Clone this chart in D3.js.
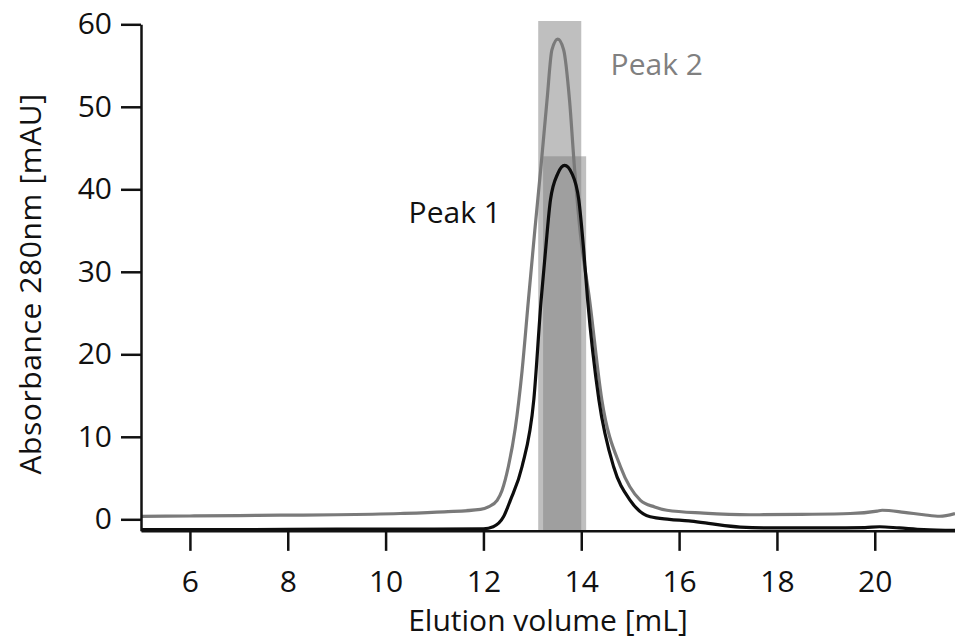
<!DOCTYPE html>
<html>
<head>
<meta charset="utf-8">
<script src="https://cdn.jsdelivr.net/npm/d3@7"></script>
<style>
  body { margin: 0; background: #fff; }
  text { font-family: "Open Sans", sans-serif; }
</style>
</head>
<body>
<div id="chart"></div>
<script>
// Peak 2 trace (grey)
var peak2Volume = [5.0, 6, 7, 7.85, 9, 10.3, 11.2, 11.94, 12.1, 12.28, 12.38, 12.51, 12.65, 12.79, 12.92, 13.05, 13.18, 13.30, 13.40, 13.52, 13.64, 13.76, 13.86, 13.98, 14.17, 14.42, 14.80, 15.21, 15.5, 15.75, 16.5, 17.45, 18.5, 19.5, 20.05, 20.15, 20.6, 21.0, 21.33, 21.64];
var peak2Abs = [0.35, 0.4, 0.45, 0.5, 0.55, 0.7, 0.9, 1.2, 1.5, 2.3, 3.5, 6.4, 11, 18, 26.6, 35, 43, 50.8, 56.9, 58.2, 56.9, 50.8, 42.7, 34.7, 26.6, 14.5, 6.4, 2.3, 1.5, 1.1, 0.75, 0.55, 0.6, 0.7, 1.0, 1.1, 0.85, 0.55, 0.37, 0.7];

// Peak 1 trace (black)
var peak1Volume = [5.0, 7, 9, 11, 12.0, 12.2, 12.41, 12.55, 12.79, 13.03, 13.18, 13.27, 13.37, 13.52, 13.66, 13.81, 13.95, 14.05, 14.13, 14.36, 14.66, 15.0, 15.41, 15.8, 16.2, 16.6, 17.25, 18, 19, 19.8, 20.1, 20.5, 21.0, 21.64];
var peak1Abs = [-1.25, -1.25, -1.2, -1.2, -1.15, -0.9, 0.3, 2.3, 6.4, 14.5, 26.6, 32.6, 38.7, 41.9, 42.9, 41.9, 38.7, 32.6, 26.6, 14.5, 6.4, 2.3, 0.3, 0.0, -0.2, -0.5, -0.94, -1.05, -1.05, -1.0, -0.9, -1.05, -1.25, -1.35];

// collected fractions: [start, end, height]
var fraction2 = [13.12, 14.0, 60.4];
var fraction1 = [13.22, 14.10, 44];

var xTicks = [6, 8, 10, 12, 14, 16, 18, 20];
var yTicks = [0, 10, 20, 30, 40, 50, 60];

var xDomain = [5, 21.64];
var yDomain = [-1.4, 60];

var width = 955, height = 640;

var svg = d3.select("#chart")
  .append("svg")
    .attr("width", width)
    .attr("height", height);

var x = d3.scaleLinear().domain(xDomain).range([141, 955]);
var y = d3.scaleLinear().domain(yDomain).range([530.85, 24.3]);

// fraction boxes
[fraction2, fraction1].forEach(function(f) {
  svg.append("rect")
    .attr("x", x(f[0]))
    .attr("y", y(f[2]))
    .attr("width", x(f[1]) - x(f[0]))
    .attr("height", y(yDomain[0]) - y(f[2]))
    .attr("fill", "#808080")
    .attr("fill-opacity", 0.5);
});

var line = d3.line()
  .x(function(d) { return x(d[0]); })
  .y(function(d) { return y(d[1]); })
  .curve(d3.curveMonotoneX);

svg.append("path")
  .datum(d3.zip(peak2Volume, peak2Abs))
  .attr("d", line)
  .attr("fill", "none")
  .attr("stroke", "#7a7a7a")
  .attr("stroke-width", 3.2)
  .attr("stroke-linejoin", "round");

svg.append("path")
  .datum(d3.zip(peak1Volume, peak1Abs))
  .attr("d", line)
  .attr("fill", "none")
  .attr("stroke", "#0d0d0d")
  .attr("stroke-width", 3.2)
  .attr("stroke-linejoin", "round");

// axes
var xAxis = svg.append("g")
  .attr("transform", "translate(0," + y(yDomain[0]) + ")")
  .call(d3.axisBottom(x).tickValues(xTicks).tickSize(20).tickSizeOuter(0).tickPadding(20));

var yAxis = svg.append("g")
  .attr("transform", "translate(" + x(xDomain[0]) + ",0)")
  .call(d3.axisLeft(y).tickValues(yTicks).tickSize(20).tickSizeOuter(0).tickPadding(9));

[xAxis, yAxis].forEach(function(a) {
  a.select(".domain").attr("stroke", "#111").attr("stroke-width", 2.5);
  a.selectAll(".tick line").attr("stroke", "#111").attr("stroke-width", 2.5);
  a.selectAll(".tick text")
    .attr("fill", "#111")
    .style("font-size", "30px")
    .style("font-family", "'Open Sans', sans-serif");
});

// axis titles
svg.append("text")
  .attr("x", 548)
  .attr("y", 631)
  .attr("text-anchor", "middle")
  .attr("fill", "#111")
  .style("font-size", "30px")
  .text("Elution volume [mL]");

svg.append("text")
  .attr("transform", "translate(41,284) rotate(-90)")
  .attr("text-anchor", "middle")
  .attr("fill", "#111")
  .style("font-size", "30px")
  .style("letter-spacing", "0.6px")
  .text("Absorbance 280nm [mAU]");

// peak labels
svg.append("text")
  .attr("x", x(14.6))
  .attr("y", y(53.85))
  .attr("fill", "#808080")
  .style("font-size", "30px")
  .text("Peak 2");

svg.append("text")
  .attr("x", x(10.47))
  .attr("y", y(35.9))
  .attr("fill", "#111")
  .style("font-size", "30px")
  .text("Peak 1");
</script>
</body>
</html>
